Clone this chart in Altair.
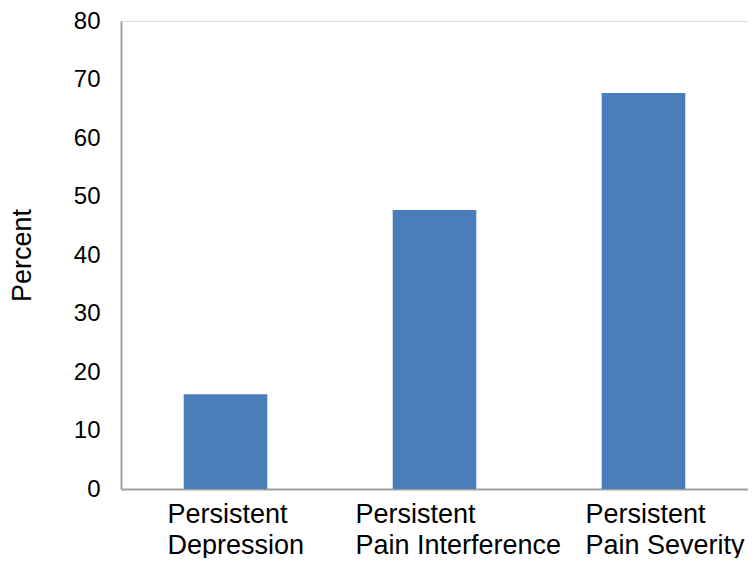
import altair as alt
import pandas as pd

categories = ["Persistent Depression", "Persistent Pain Interference", "Persistent Pain Severity"]
percents = [16.2, 47.7, 67.7]

df = pd.DataFrame({"category": categories, "percent": percents})

FONT = "Liberation Sans"

chart = (
    alt.Chart(df)
    .mark_bar(color="#4a7ebb")
    .encode(
        x=alt.X(
            "category:N",
            sort=categories,
            title=None,
            scale=alt.Scale(paddingInner=0.6, paddingOuter=0.3),
            axis=alt.Axis(
                labelAngle=0,
                labelExpr="['Persistent', slice(datum.label, 11)]",
                labelAlign="left",
                labelOffset={
                    "condition": {"test": "datum.value == 'Persistent Pain Interference'", "value": -79},
                    "value": -58,
                },
                labelFont=FONT,
                labelFontSize=27,
                labelLineHeight=31,
                labelColor="#000000",
                labelPadding=12,
                labelLimit=400,
                labelOverlap=False,
                labelBound=False,
                ticks=False,
                domainColor="#a0a0a0",
                domainWidth=2,
                grid=False,
            ),
        ),
        y=alt.Y(
            "percent:Q",
            title="Percent",
            scale=alt.Scale(domain=[0, 80], nice=False),
            axis=alt.Axis(
                values=[0, 10, 20, 30, 40, 50, 60, 70, 80],
                labelFont=FONT,
                labelFontSize=24,
                labelColor="#000000",
                labelPadding=21,
                labelBound=False,
                labelFlush=False,
                ticks=False,
                domainColor="#a0a0a0",
                domainWidth=2,
                grid=False,
                titleFont=FONT,
                titleFontSize=27,
                titleFontWeight="normal",
                titleColor="#000000",
                titlePadding=37,
            ),
        ),
    )
    .properties(
        width=627,
        height=468,
        autosize=alt.AutoSizeParams(type="none"),
        padding={"left": 113, "top": 13, "right": 0, "bottom": 69},
    )
    .configure_view(stroke=None)
    .configure(background="white")
)

chart.save("out.html", embed_options={"renderer": "svg", "actions": False})
